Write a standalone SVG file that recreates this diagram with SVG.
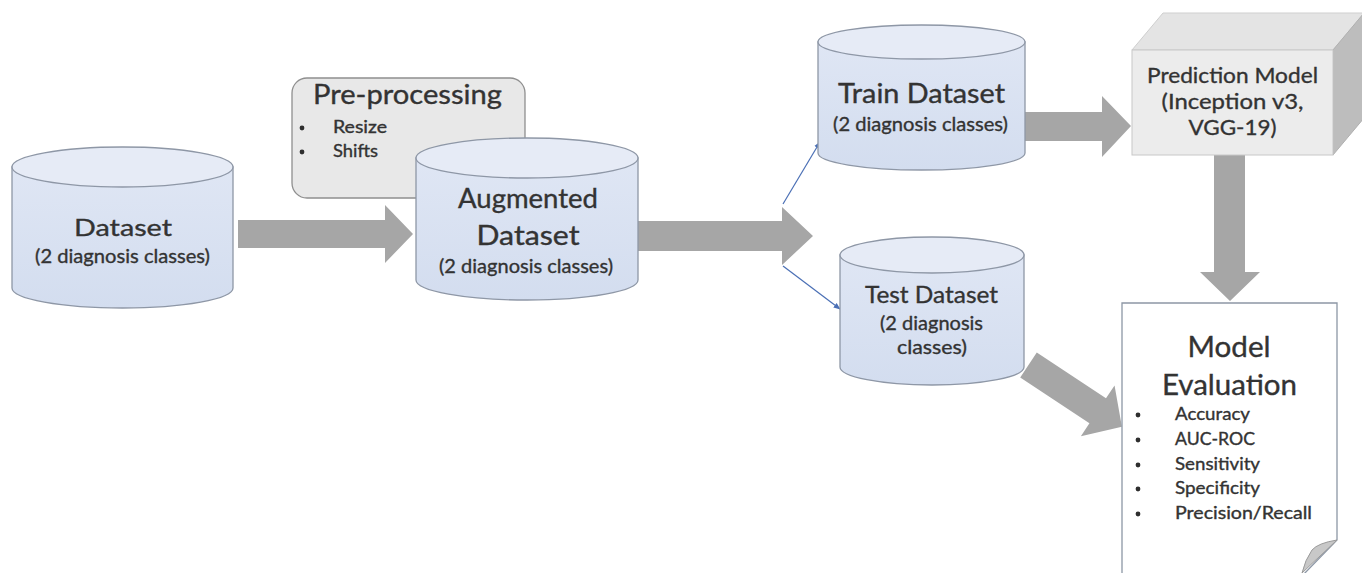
<svg xmlns="http://www.w3.org/2000/svg" width="1362" height="573" viewBox="0 0 1362 573">
  <defs>
    <linearGradient id="cylBody" x1="0" y1="0" x2="0" y2="1">
      <stop offset="0" stop-color="#dfe6f4"/>
      <stop offset="1" stop-color="#d3ddef"/>
    </linearGradient>
    <marker id="thinHead" viewBox="0 0 10 10" refX="9" refY="5" markerWidth="7" markerHeight="7" orient="auto" markerUnits="userSpaceOnUse">
      <path d="M0,1 L10,5 L0,9 Z" fill="#4a6fb5"/>
    </marker>
    <style>
      text { font-family: Lato, "Open Sans", "DejaVu Sans", sans-serif; fill: #333333; stroke: #333333; stroke-width: 0.35px; }
      .cyl { fill: url(#cylBody); stroke: #8e97a6; stroke-width: 1.3; }
      .cyltop { fill: #e6ebf6; stroke: #8e97a6; stroke-width: 1.3; }
      .block { fill: #a6a6a6; stroke: none; }
      .thin { stroke: #4a6fb5; stroke-width: 1.2; fill: none; }
      .sub { font-size: 19.5px; }
      .item { font-size: 17px; }
      .mid { text-anchor: middle; }
      .dot { fill: #2e2e2e; }
    </style>
  </defs>

  <rect x="0" y="0" width="1362" height="573" fill="#ffffff"/>

  <!-- block arrows and thin split connectors -->
  <g id="connectors">
    <polygon class="block" points="238,220 385,220 385,205 413,234 385,263 385,248 238,248"/>
    <polygon class="block" points="638,221 782,221 782,207 813,236 782,265 782,251 638,251"/>
    <polygon class="block" points="1025,112 1102,112 1102,96 1131,126 1102,157 1102,141 1025,141"/>
    <polygon class="block" points="1214,155 1245,155 1245,272 1260,272 1230,301 1200,272 1214,272"/>
    <polygon class="block" transform="translate(1028.5,365) rotate(33.5)" points="0,-15 83,-15 83,-30.5 112,0 83,30.5 83,15 0,15"/>
    <line class="thin" x1="783" y1="204" x2="820" y2="142" marker-end="url(#thinHead)"/>
    <line class="thin" x1="783" y1="266" x2="840" y2="309" marker-end="url(#thinHead)"/>
  </g>

  <!-- source dataset -->
  <g id="dataset">
    <path class="cyl" d="M12,167 V288 A110.5,20 0 0 0 233,288 V167 Z"/>
    <ellipse class="cyltop" cx="122.5" cy="167" rx="110.5" ry="20"/>
    <text class="mid" x="123" y="236" font-size="24" textLength="98" lengthAdjust="spacingAndGlyphs">Dataset</text>
    <text class="sub mid" x="122.5" y="263" textLength="175" lengthAdjust="spacingAndGlyphs">(2 diagnosis classes)</text>
  </g>

  <!-- pre-processing step -->
  <g id="preprocessing">
    <rect x="292" y="78" width="233" height="120" rx="15" ry="15" fill="#e8e8e8" stroke="#8f8f8f" stroke-width="1.3"/>
    <text x="313" y="104" font-size="27" textLength="189" lengthAdjust="spacingAndGlyphs">Pre-processing</text>
    <circle class="dot" cx="302" cy="128" r="2.4"/>
    <text x="333" y="133" font-size="16.5" textLength="54" lengthAdjust="spacingAndGlyphs">Resize</text>
    <circle class="dot" cx="302" cy="152" r="2.4"/>
    <text x="333" y="157" font-size="16.5" textLength="45" lengthAdjust="spacingAndGlyphs">Shifts</text>
  </g>

  <!-- augmented dataset -->
  <g id="augmented">
    <path class="cyl" d="M416,158 V280 A111,20 0 0 0 638,280 V158 Z"/>
    <ellipse class="cyltop" cx="527" cy="158" rx="111" ry="20"/>
    <text class="mid" x="528" y="208" font-size="26" textLength="140" lengthAdjust="spacingAndGlyphs">Augmented</text>
    <text class="mid" x="528" y="245" font-size="26" textLength="103" lengthAdjust="spacingAndGlyphs">Dataset</text>
    <text class="sub mid" x="526" y="273" textLength="174" lengthAdjust="spacingAndGlyphs">(2 diagnosis classes)</text>
  </g>

  <!-- training split -->
  <g id="train">
    <path class="cyl" d="M818,42 V153 A103.5,17 0 0 0 1025,153 V42 Z"/>
    <ellipse class="cyltop" cx="921.5" cy="42" rx="103.5" ry="17"/>
    <text class="mid" x="921.5" y="103" font-size="26" textLength="167" lengthAdjust="spacingAndGlyphs">Train Dataset</text>
    <text class="sub mid" x="920.5" y="131" textLength="175" lengthAdjust="spacingAndGlyphs">(2 diagnosis classes)</text>
  </g>

  <!-- test split -->
  <g id="test">
    <path class="cyl" d="M840,255 V367 A92,18 0 0 0 1024,367 V255 Z"/>
    <ellipse class="cyltop" cx="932" cy="255" rx="92" ry="18"/>
    <text class="mid" x="931.5" y="303" font-size="24" textLength="133" lengthAdjust="spacingAndGlyphs">Test Dataset</text>
    <text class="sub mid" x="931.5" y="330" textLength="103" lengthAdjust="spacingAndGlyphs">(2 diagnosis</text>
    <text class="sub mid" x="932" y="354" textLength="70" lengthAdjust="spacingAndGlyphs">classes)</text>
  </g>

  <!-- prediction model cube -->
  <g id="model">
    <polygon points="1132,50 1163,13 1364,13 1333,50" fill="#e4e4e4" stroke="#cfcfcf" stroke-width="1"/>
    <polygon points="1333,50 1364,13 1364,118 1333,155" fill="#bdbdbd" stroke="#b0b0b0" stroke-width="1"/>
    <rect x="1132" y="50" width="201" height="105" fill="#ececec" stroke="#c8c8c8" stroke-width="1"/>
    <text class="mid" x="1232.5" y="83" font-size="22" textLength="171" lengthAdjust="spacingAndGlyphs">Prediction Model</text>
    <text class="mid" x="1232.5" y="109" font-size="22" textLength="142" lengthAdjust="spacingAndGlyphs">(Inception v3,</text>
    <text class="mid" x="1232.5" y="135" font-size="22" textLength="88" lengthAdjust="spacingAndGlyphs">VGG-19)</text>
  </g>

  <!-- evaluation document -->
  <g id="evaluation">
    <path d="M1122,576 V303 H1337 V540 L1302,576" fill="#ffffff" stroke="#8d97a5" stroke-width="1.3"/>
    <path d="M1337,540 Q1318,543 1312,550 Q1305,560 1302,573 Z" fill="#c8c8c8" stroke="#9a9a9a" stroke-width="1"/>
    <text class="mid" x="1229" y="357" font-size="28" textLength="83" lengthAdjust="spacingAndGlyphs">Model</text>
    <text class="mid" x="1229.5" y="395" font-size="28" textLength="135" lengthAdjust="spacingAndGlyphs">Evaluation</text>
    <circle class="dot" cx="1138" cy="415" r="2.4"/>
    <circle class="dot" cx="1138" cy="440" r="2.4"/>
    <circle class="dot" cx="1138" cy="465" r="2.4"/>
    <circle class="dot" cx="1138" cy="489" r="2.4"/>
    <circle class="dot" cx="1138" cy="514" r="2.4"/>
    <text class="item" x="1175" y="420" textLength="75" lengthAdjust="spacingAndGlyphs">Accuracy</text>
    <text class="item" x="1175" y="445" textLength="80" lengthAdjust="spacingAndGlyphs">AUC-ROC</text>
    <text class="item" x="1175" y="470" textLength="85" lengthAdjust="spacingAndGlyphs">Sensitivity</text>
    <text class="item" x="1175" y="494" textLength="85" lengthAdjust="spacingAndGlyphs">Specificity</text>
    <text class="item" x="1175" y="519" textLength="137" lengthAdjust="spacingAndGlyphs">Precision/Recall</text>
  </g>
</svg>
